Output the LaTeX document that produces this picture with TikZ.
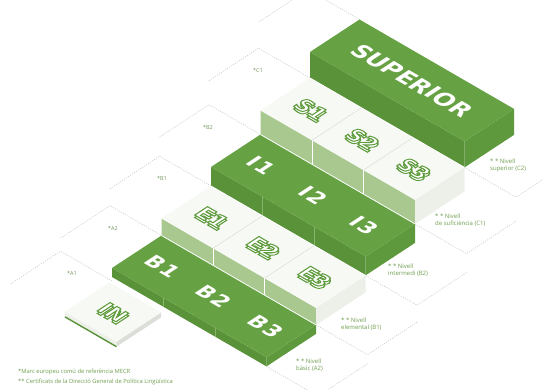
\documentclass[tikz,border=0pt]{standalone}
\usepackage{fontspec}
\setmainfont{Open Sans}
\newfontfamily\blockfont{DejaVu Sans}

\definecolor{grtop}{HTML}{66A243}
\definecolor{grfront}{HTML}{5A9239}
\definecolor{grside}{HTML}{5F993D}
\definecolor{ltgreen}{HTML}{A8C88F}
\definecolor{wtop}{HTML}{F7F9F4}
\definecolor{wside}{HTML}{ECF0E8}
\definecolor{dashgrey}{HTML}{C6CAC2}
\definecolor{txtgreen}{HTML}{6F9F50}

% white letters with a green outline
\newcommand{\outl}[1]{\special{pdf:literal direct 2 Tr 1.2 w 0.369 0.608 0.235 RG}#1\special{pdf:literal direct 0 Tr}}

% faces of one row: u0,u1,v0,v1,h0,h1,top,front,side
\newcommand{\isoblock}[9]{%
  \fill[#8] (#1,#5,#3) -- (#2,#5,#3) -- (#2,#6,#3) -- (#1,#6,#3) -- cycle;
  \fill[#9] (#2,#5,#3) -- (#2,#5,#4) -- (#2,#6,#4) -- (#2,#6,#3) -- cycle;
  \fill[#7] (#1,#6,#3) -- (#2,#6,#3) -- (#2,#6,#4) -- (#1,#6,#4) -- cycle;
}

\tikzset{
  lvl/.style={dashgrey, line width=0.5pt, dash pattern=on 1.2pt off 1.2pt},
  lvllbl/.style={inner sep=0pt, text=txtgreen!70!gray, font=\fontsize{5.5}{6}\selectfont},
  nivlbl/.style={inner sep=0pt, anchor=north west, align=left, text=txtgreen, font=\fontsize{6}{7.2}\selectfont},
  foot/.style={inner sep=0pt, anchor=west, text=txtgreen, font=\fontsize{5.8}{7}\selectfont},
  ontop/.style={inner sep=0pt, text=white, cm={0.866,-0.501,0.836,0.549,(0,0)}},
  grlbl/.style={ontop, font=\blockfont\bfseries\fontsize{21}{21}\selectfont},
  wlbl/.style={ontop, font=\blockfont\bfseries\fontsize{21}{21}\selectfont},
}

\begin{document}
\begin{tikzpicture}
  \useasboundingbox (0pt,0pt) rectangle (543pt,-390pt);
  \fill[white] (0pt,0pt) rectangle (543pt,-390pt);

  \begin{scope}[shift={(112pt,-277pt)}, x={(51.5pt,-29.8pt)}, y={(0pt,1pt)}, z={(49.5pt,32.5pt)}]
    % level outlines
    \foreach \v/\h in {0/-4,1/9,2/26,3/45,4/69,5/95}
      \draw[lvl] (-1,\h,\v-1) -- (-1,\h,\v) -- (0,\h,\v);
    \foreach \v/\h in {0/0,1/9,2/26,3/45,4/69}
      \draw[lvl] (3,\h,\v) -- (4,\h,\v) -- (4,\h,\v+1);

    % blocks, back to front
    \isoblock{0}{3}{4}{5}{69}{95}{grtop}{grfront}{grside}
    \isoblock{0}{3}{3}{4}{45}{69}{wtop}{ltgreen}{wside}
    \isoblock{0}{3}{2}{3}{26}{45}{grtop}{grfront}{grside}
    \isoblock{0}{3}{1}{2}{9}{26}{wtop}{ltgreen}{wside}
    \isoblock{0}{3}{0}{1}{0}{9}{grtop}{grfront}{grside}
    \isoblock{0}{1}{-0.95}{-0.05}{-9}{-4}{wtop}{wside}{wside!85!gray}
    \draw[grfront, line width=1.4pt] (0,-9,-0.95) -- (1,-9,-0.95);

    % joints
    \foreach \i in {1,2} {
      \draw[white, line width=0.6pt] (\i,45,3) -- (\i,69,3);
      \draw[wside!80!gray, line width=0.4pt] (\i,69,3) -- (\i,69,4);
      \draw[white, line width=0.6pt] (\i,9,1) -- (\i,26,1);
      \draw[wside!80!gray, line width=0.4pt] (\i,26,1) -- (\i,26,2);
      \draw[grtop!80!white, line width=0.4pt] (\i,26,2) -- (\i,45,2);
      \draw[grtop!80!white, line width=0.4pt] (\i,0,0) -- (\i,9,0);
    }
    \foreach \v/\h in {1/9,2/26,3/45,4/69}
      \draw[white, line width=0.8pt] (0,\h,\v) -- (3,\h,\v);

    % labels on top faces
    \node[grlbl, font=\blockfont\bfseries\fontsize{23}{23}\selectfont] (sup) at (1.5,95,4.5) {SUPERIOR};
    \foreach \i in {1,2,3} {
      \node[wlbl] (sx\i) at (\i-0.5,66.5,3.5) {\outl{S\i}};
      \node[wlbl] (s\i) at (\i-0.5,69,3.5) {\outl{S\i}};
      \node[grlbl] (i\i) at (\i-0.5,45,2.5) {I\kern1.5pt\i};
      \node[wlbl] (ex\i) at (\i-0.5,23.5,1.5) {\outl{E\i}};
      \node[wlbl] (e\i) at (\i-0.5,26,1.5) {\outl{E\i}};
      \node[grlbl] (b\i) at (\i-0.5,9,0.5) {B\kern1.5pt\i};
    }
    \node[wlbl] (inx) at (0.5,-6.5,-0.5) {\outl{IN}};
    \node[wlbl] (in) at (0.5,-4,-0.5) {\outl{IN}};
  \end{scope}

  % level names
  \node[lvllbl] (la1) at (72pt,-273pt) {*A1};
  \node[lvllbl] (la2) at (113pt,-228pt) {*A2};
  \node[lvllbl] (lb1) at (162pt,-178pt) {*B1};
  \node[lvllbl] (lb2) at (208pt,-127pt) {*B2};
  \node[lvllbl] (lc1) at (258pt,-70pt) {*C1};

  \node[nivlbl] (nc2) at (490pt,-159pt) {* * Nivell\\superior (C2)};
  \node[nivlbl] (nc1) at (435pt,-214pt) {* * Nivell\\de suficiència (C1)};
  \node[nivlbl] (nb2) at (388pt,-264pt) {* * Nivell\\intermedi (B2)};
  \node[nivlbl] (nb1) at (341pt,-318pt) {* * Nivell\\elemental (B1)};
  \node[nivlbl] (na2) at (296pt,-359pt) {* * Nivell\\bàsic (A2)};

  \node[foot] (f1) at (18pt,-372pt) {*Marc europeu comú de referència MECR};
  \node[foot] (f2) at (18pt,-382pt) {** Certificats de la Direcció General de Política Lingüística};
\end{tikzpicture}
\end{document}
